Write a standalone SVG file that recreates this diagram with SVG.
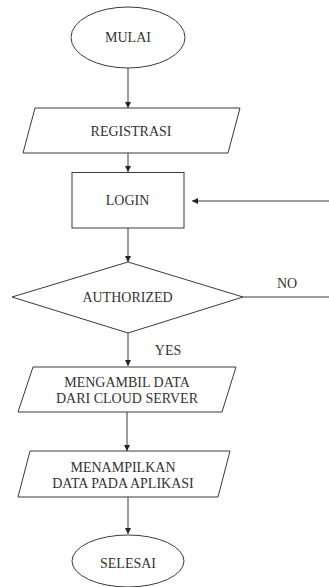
<svg xmlns="http://www.w3.org/2000/svg" width="329" height="587" viewBox="0 0 329 587">
<style>
.s{fill:#fff;stroke:#3a3a3a;stroke-width:1}
.t{font-family:"Liberation Serif","Times New Roman",serif;font-size:14px;fill:#333;text-anchor:middle;dominant-baseline:central}
.c{fill:none;stroke:#3a3a3a;stroke-width:1}
</style>
<defs>
<marker id="a" viewBox="0 0 10 10" refX="10" refY="5" markerWidth="6" markerHeight="6" markerUnits="userSpaceOnUse" orient="auto">
<path d="M0,0 L10,5 L0,10 z" fill="#222"/>
</marker>
</defs>
<rect width="329" height="587" fill="#fff"/>
<g id="connectors">
<line class="c" x1="128" y1="68" x2="128" y2="108" marker-end="url(#a)"/>
<line class="c" x1="128" y1="153" x2="128" y2="172" marker-end="url(#a)"/>
<line class="c" x1="128" y1="228" x2="128" y2="262" marker-end="url(#a)"/>
<line class="c" x1="128" y1="333" x2="128" y2="366" marker-end="url(#a)"/>
<line class="c" x1="127" y1="412" x2="127" y2="451" marker-end="url(#a)"/>
<line class="c" x1="128" y1="497" x2="128" y2="534" marker-end="url(#a)"/>
<line class="c" x1="243" y1="297" x2="329" y2="297"/>
<line class="c" x1="329" y1="201" x2="192" y2="201" marker-end="url(#a)"/>
<text class="t" x="287" y="283">NO</text>
<text class="t" x="168" y="350">YES</text>
</g>
<g id="mulai">
<ellipse class="s" cx="128" cy="37.5" rx="57" ry="30.5"/>
<text class="t" x="128" y="37.5">MULAI</text>
</g>
<g id="registrasi">
<polygon class="s" points="35,108 240,108 228,153 23,153"/>
<text class="t" x="131" y="131">REGISTRASI</text>
</g>
<g id="login">
<rect class="s" x="72" y="172.5" width="112" height="55.5"/>
<text class="t" x="127.5" y="200">LOGIN</text>
</g>
<g id="authorized">
<polygon class="s" points="128,262 243,297 128,333 12,297"/>
<text class="t" x="127.5" y="297">AUTHORIZED</text>
</g>
<g id="mengambil">
<polygon class="s" points="33,367 236,367 222,412 18,412"/>
<text class="t" x="127" y="382">MENGAMBIL DATA</text>
<text class="t" x="127" y="398.5">DARI CLOUD SERVER</text>
</g>
<g id="menampilkan">
<polygon class="s" points="30,451 230,451 218,497 18,497"/>
<text class="t" x="123" y="467">MENAMPILKAN</text>
<text class="t" x="123" y="483.5">DATA PADA APLIKASI</text>
</g>
<g id="selesai">
<ellipse class="s" cx="128" cy="561" rx="56" ry="26"/>
<text class="t" x="128" y="563">SELESAI</text>
</g>
</svg>
